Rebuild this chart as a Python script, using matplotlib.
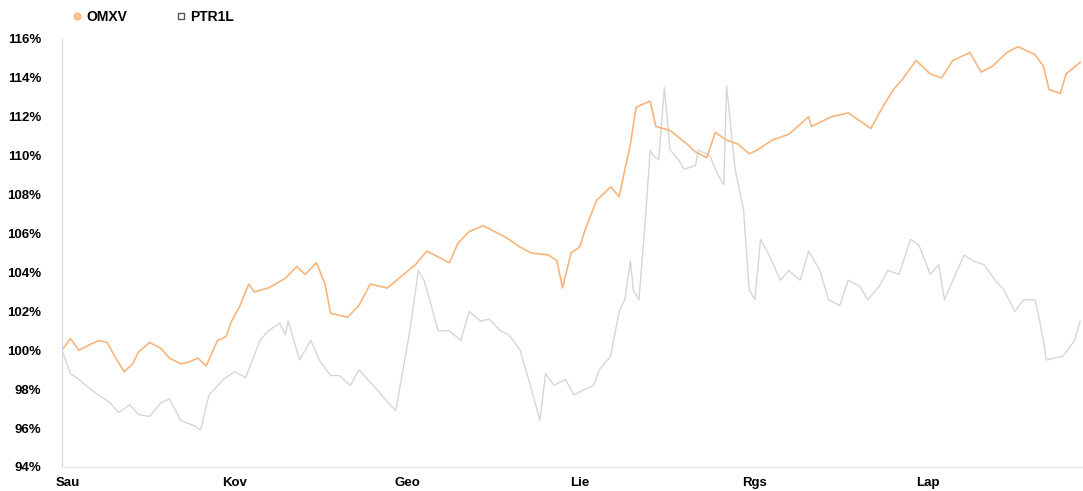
import matplotlib
matplotlib.use("Agg")
import matplotlib.pyplot as plt
from matplotlib.lines import Line2D
import pandas as pd

# day offsets from 1 Jan and indexed values (%)
omxv_days = [-2, -1, 1, 4, 8, 11, 14, 17, 20, 23, 25, 29, 33, 36, 40, 43, 46, 49, 53, 56,
             58, 61, 64, 66, 71, 77, 81, 84, 88, 91, 93, 99, 103, 107, 113, 118, 123, 127,
             131, 135, 138, 142, 147, 151, 155, 160, 164, 170, 173, 175, 178, 181, 183, 187,
             192, 195, 199, 201, 206, 208, 213, 219, 222, 226, 229, 233, 237, 241, 244, 249,
             255, 262, 263, 270, 276, 284, 287, 289, 292, 295, 300, 305, 309, 313, 319, 323,
             327, 332, 336, 342, 345, 347, 351, 353, 358]
omxv_vals = [100.0, 100.2, 100.6, 100.0, 100.3, 100.5, 100.4, 99.6, 98.9, 99.3, 99.9, 100.4,
             100.1, 99.6, 99.3, 99.4, 99.6, 99.2, 100.5, 100.7, 101.5, 102.3, 103.4, 103.0,
             103.2, 103.7, 104.3, 103.9, 104.5, 103.4, 101.9, 101.7, 102.3, 103.4, 103.2,
             103.8, 104.4, 105.1, 104.8, 104.5, 105.5, 106.1, 106.4, 106.1, 105.8, 105.3,
             105.0, 104.9, 104.6, 103.2, 105.0, 105.3, 106.2, 107.7, 108.4, 107.9, 110.6,
             112.5, 112.8, 111.5, 111.3, 110.6, 110.2, 109.9, 111.2, 110.8, 110.6, 110.1,
             110.3, 110.8, 111.1, 112.0, 111.5, 112.0, 112.2, 111.4, 112.2, 112.7, 113.4,
             113.9, 114.9, 114.2, 114.0, 114.9, 115.3, 114.3, 114.6, 115.3, 115.6, 115.2,
             114.6, 113.4, 113.2, 114.2, 114.8]

ptr_days = [-2, 1, 4, 8, 11, 15, 18, 22, 25, 29, 33, 36, 40, 45, 47, 50, 55, 59, 63, 64,
            68, 71, 75, 77, 78, 82, 86, 89, 93, 96, 100, 103, 108, 114, 116, 117, 121, 124,
            126, 128, 131, 135, 139, 142, 146, 149, 153, 156, 160, 163, 167, 169, 172, 176,
            179, 183, 186, 188, 192, 195, 197, 199, 200, 202, 204, 206, 207, 209, 211, 213,
            216, 218, 222, 223, 227, 230, 232, 233, 236, 239, 241, 243, 245, 248, 252, 255,
            259, 262, 266, 269, 273, 276, 280, 283, 287, 290, 294, 298, 301, 305, 308, 310,
            313, 317, 320, 324, 328, 331, 335, 338, 342, 343, 345, 346, 349, 352, 356, 358]
ptr_vals = [100.0, 98.8, 98.5, 98.0, 97.7, 97.3, 96.8, 97.2, 96.7, 96.6, 97.3, 97.5, 96.4,
            96.1, 95.9, 97.7, 98.5, 98.9, 98.6, 99.0, 100.5, 101.0, 101.4, 100.8, 101.5,
            99.5, 100.5, 99.5, 98.7, 98.7, 98.2, 99.0, 98.2, 97.2, 96.9, 97.7, 101.0, 104.1,
            103.6, 102.6, 101.0, 101.0, 100.5, 102.0, 101.5, 101.6, 101.0, 100.8, 100.0,
            98.5, 96.4, 98.8, 98.2, 98.5, 97.7, 98.0, 98.2, 99.0, 99.7, 102.0, 102.6, 104.6,
            103.1, 102.6, 106.2, 110.3, 110.0, 109.8, 113.5, 110.3, 109.8, 109.3, 109.5,
            110.3, 110.0, 109.0, 108.5, 113.6, 109.3, 107.2, 103.1, 102.6, 105.7, 104.9,
            103.6, 104.1, 103.6, 105.1, 104.1, 102.6, 102.3, 103.6, 103.3, 102.6, 103.3,
            104.1, 103.9, 105.7, 105.4, 103.9, 104.4, 102.6, 103.6, 104.9, 104.6, 104.4,
            103.6, 103.1, 102.0, 102.6, 102.6, 102.0, 100.5, 99.5, 99.6, 99.7, 100.5, 101.5]

month_starts = ["2019-01-01", "2019-03-01", "2019-05-01", "2019-07-01", "2019-09-01", "2019-11-01"]
month_labels = ["Sau", "Kov", "Geo", "Lie", "Rgs", "Lap"]
y_ticks = [94, 96, 98, 100, 102, 104, 106, 108, 110, 112, 114, 116]

base = pd.Timestamp("2019-01-01")
omxv_dates = base + pd.to_timedelta(omxv_days, unit="D")
ptr_dates = base + pd.to_timedelta(ptr_days, unit="D")

plt.rcParams['font.family'] = ['Liberation Sans', 'DejaVu Sans']

fig = plt.figure(figsize=(10.83, 4.91), dpi=100)
ax = fig.add_axes([0.0572, 0.0489, 0.942, 0.8717])

ax.plot(ptr_dates, ptr_vals, color="#d6d6d6", lw=1.0)
ax.plot(omxv_dates, omxv_vals, color="#f7b57c", lw=1.2)

ax.set_ylim(94, 116)
ax.set_xlim(base + pd.Timedelta(days=-2), base + pd.Timedelta(days=358.7))
ax.set_yticks(y_ticks)
ax.set_yticklabels([f"{v}%" for v in y_ticks], fontsize=9.5, fontweight="bold")
ax.set_xticks(pd.to_datetime(month_starts))
ax.set_xticklabels(month_labels, fontsize=9.5, fontweight="bold")
ax.tick_params(axis="y", length=0, pad=15)
ax.tick_params(axis="x", length=0, pad=7)

for s in ["top", "right"]:
    ax.spines[s].set_visible(False)
ax.spines["left"].set_color("#d8d4ec")
ax.spines["bottom"].set_color("#e4e4e4")

handles = [
    Line2D([], [], color="#f7a35c", marker="o", lw=0, markersize=5, alpha=0.6),
    Line2D([], [], color="#555555", marker="s", lw=0, markersize=4, markerfacecolor="white"),
]
fig.legend(handles, ["OMXV", "PTR1L"], loc="upper left", bbox_to_anchor=(0.052, 1.005),
           ncol=2, frameon=False, prop={"size": 10, "weight": "bold"},
           columnspacing=3.2, handletextpad=0.1, handlelength=1.2)

fig.savefig("out.png", dpi=100)
